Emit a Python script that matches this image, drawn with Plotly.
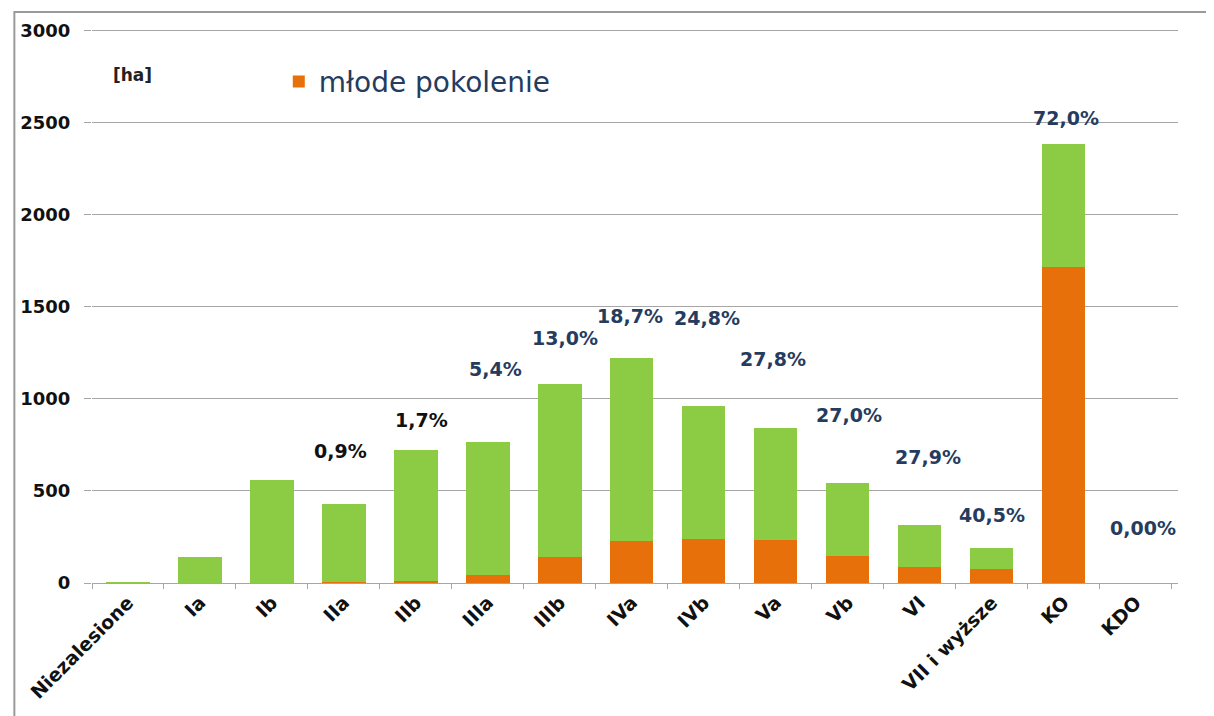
import plotly.graph_objects as go

categories = ["Niezalesione", "Ia", "Ib", "IIa", "IIb", "IIIa", "IIIb", "IVa",
              "IVb", "Va", "Vb", "VI", "VII i wyższe", "KO", "KDO"]
total_ha = [4, 143, 560, 430, 724, 764, 1082, 1222, 962, 843, 541, 317, 191, 2384, 0]
mlode_ha = [0, 0, 0, 4, 12, 41, 141, 228, 239, 234, 146, 88, 77, 1716, 0]
pct_labels = ["", "", "", "0,9%", "1,7%", "5,4%", "13,0%", "18,7%", "24,8%",
              "27,8%", "27,0%", "27,9%", "40,5%", "72,0%", "0,00%"]
y_ticks = [0, 500, 1000, 1500, 2000, 2500, 3000]

# placement of the hand-positioned percent text boxes (layout, not data)
label_dx = [0, 0, 0, -0.05, 0.08, 0.11, 0.07, -0.03, 0.04, -0.04, 0.02, 0.12, 0.0, 0.03, 0.1]
label_y = [0, 0, 0, 719, 886, 1162, 1330, 1449, 1438, 1216, 914, 686, 368, 2524, 297]
label_dark = [False, False, False, True, True, False, False, False, False,
              False, False, False, False, False, False]

rest_ha = [t - m for t, m in zip(total_ha, mlode_ha)]

ORANGE = "#E8700A"
GREEN = "#8CCB44"
NAVY = "#263C5E"
FONT = "DejaVu Sans"

fig = go.Figure()
fig.add_trace(go.Bar(x=categories, y=mlode_ha, name="młode pokolenie",
                     marker=dict(color=ORANGE, line=dict(width=0)), showlegend=True))
fig.add_trace(go.Bar(x=categories, y=rest_ha, name="pozostałe",
                     marker=dict(color=GREEN, line=dict(width=0)), showlegend=False))

annotations = []
for i, txt in enumerate(pct_labels):
    if not txt:
        continue
    annotations.append(dict(
        x=i + label_dx[i], y=label_y[i], xref="x", yref="y", text=txt,
        showarrow=False, xanchor="center", yanchor="middle",
        font=dict(family=FONT, size=19, color="#111111" if label_dark[i] else NAVY,
                  weight="bold")))

annotations.append(dict(x=0.0376, y=0.915, xref="paper", yref="paper", text="[ha]",
                        showarrow=False, xanchor="center", yanchor="middle",
                        font=dict(family=FONT, size=17, color="#222222", weight="bold")))

W, H = 1206, 708
fig.update_layout(
    width=W, height=H,
    margin=dict(l=79, r=36, t=18, b=133),
    paper_bgcolor="white", plot_bgcolor="white",
    barmode="stack", bargap=0.4,
    font=dict(family=FONT, color="#111111"),
    legend=dict(x=0.172, y=0.903, xanchor="left", yanchor="middle",
                bgcolor="rgba(0,0,0,0)", itemwidth=30,
                font=dict(family=FONT, size=28, color=NAVY)),
    annotations=annotations,
    shapes=[dict(type="rect", xref="paper", yref="paper",
                 x0=-78 / 1091, x1=1.0275, y0=-0.26, y1=(557 + 16) / 557,
                 line=dict(color="#9A9A9A", width=2), fillcolor="rgba(0,0,0,0)",
                 layer="below")],
)

fig.update_yaxes(range=[0, 3012], tickvals=y_ticks, ticktext=[str(v) for v in y_ticks],
                 showgrid=True, gridcolor="#A6A6A6", gridwidth=1,
                 ticks="outside", ticklen=7, tickcolor="#A6A6A6",
                 ticklabelstandoff=10, showline=False, zeroline=False,
                 tickfont=dict(family=FONT, size=18, color="#111111", weight="bold"))
fig.update_xaxes(type="category", tickangle=-45, tickson="boundaries",
                 ticks="outside", ticklen=5, tickcolor="#A6A6A6",
                 showline=True, linecolor="#A6A6A6", linewidth=1,
                 showgrid=False,
                 tickfont=dict(family=FONT, size=19, color="#111111", weight="bold"))

fig.write_html("out.html")
